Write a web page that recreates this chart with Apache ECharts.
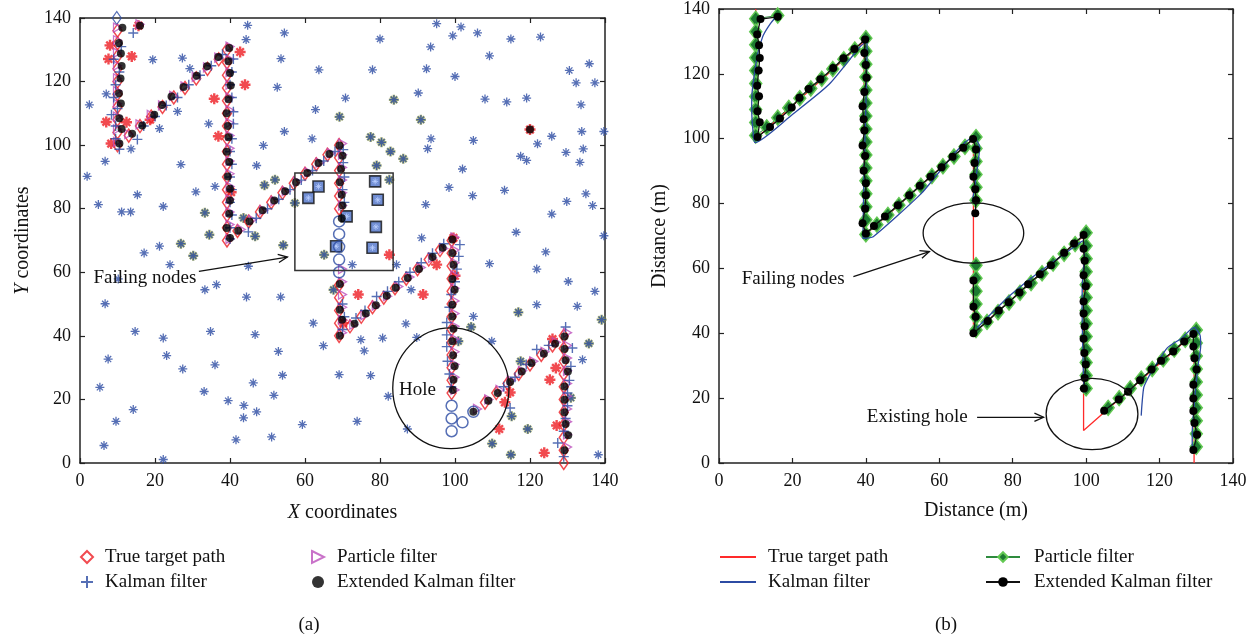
<!DOCTYPE html>
<html><head><meta charset="utf-8">
<script src="https://cdn.jsdelivr.net/npm/echarts@6/dist/echarts.min.js"></script>
<style>html,body{margin:0;padding:0;background:#fff}#c{width:1257px;height:641px}</style>
</head><body><div id="c"></div>
<script>
// ---------- DATA ----------
const axisTicks = [0, 20, 40, 60, 80, 100, 120, 140];

// sensor nodes (left panel)
const blueNodes = [[44.7,137.7],[44.3,133.2],[54.5,135.3],[19.4,126.9],[27.3,127.4],[53.6,127.2],[63.7,123.7],[29.3,124.1],[2.5,112.7],[7,116.1],[52.6,118.2],[26,110.6],[62.8,111.2],[34.3,106.7],[21.2,105.2],[54.5,104.3],[48.9,99.9],[61.9,102],[13.6,98.8],[6.7,94.9],[26.9,93.9],[1.9,90.2],[47.1,93.6],[30.9,85.3],[36,87],[15.3,84.4],[4.9,81.3],[11.1,79],[13.5,79],[22.2,80.7],[21.2,68.2],[17.1,66.1],
[95.1,138.2],[101.6,137.2],[99.4,134.4],[106,135.3],[80,133.4],[93.5,130.9],[114.9,133.4],[122.8,134],[109.2,128.1],[78,123.7],[92.4,124],[100,121.6],[130.5,123.5],[135.8,125.6],[132.3,119.6],[137.3,119.6],[70.8,114.8],[90.2,116.4],[108,114.5],[113.8,113.6],[119.1,114.8],[133.6,112.7],[93.6,102],[92.7,98.9],[104.9,101.5],[122,100.4],[125.8,102.8],[133.8,104.3],[139.7,104.3],[129.6,97.7],[134.2,98.8],[133.3,94.6],[117.5,96.5],[119.1,95.2],[102,92.5],[98.4,86.7],[104.7,84.1],[113.2,85.8],[92.2,81.3],[129.8,82.3],[134.9,84.7],[136.7,81],[125.8,78.3],[139.7,71.5],[116.3,72.6],[124.2,66.4],[91.1,70.8],
[6.7,50.1],[14.7,41.4],[22.2,39.3],[23.1,33.8],[7.5,32.7],[5.3,23.8],[14.2,16.8],[9.6,13.1],[6.4,5.5],[22.2,1.1],[27.4,29.6],[33.1,22.5],[36,30.9],[34.8,41.4],[33.3,54.5],[36.4,56.1],[24,62.4],[44.9,61.9],[44.4,52.2],[53.5,52.2],[46.7,40.4],[52.9,35.1],[54,27.6],[46.2,25.2],[39.5,19.6],[43.7,18.1],[43.6,14.2],[47.1,16.1],[51.7,21.3],[41.6,7.3],[51.1,8.2],[59.3,12.1],[62.2,44],[10.2,57.9],
[64.9,36.9],[69.1,27.8],[73.9,13.1],[74.9,38.8],[75.8,35.3],[77.5,27.5],[80.7,39.3],[82.2,21],[86.9,43.8],[87.3,10.7],[89.8,39.5],[88.3,54.5],[84.4,62.4],[72.6,62.4],[104.9,46.1],[109.2,62.7],[121.8,61],[121.8,49.8],[130.2,57.1],[132.6,49.3],[137.3,54],[134,32.5],[109.8,38.3],[138.2,2.6]];
const oliveNodes = [[49.2,87.4],[52,89.1],[33.3,78.7],[43.6,77.1],[46.7,71.3],[34.5,71.8],[26.9,69],[30.2,65.2],[54.2,68.5],[57.3,81.8],[69.2,108.9],[83.7,114.3],[90.9,108],[77.5,102.6],[80.4,100.9],[82.8,98],[86.2,95.7],[79.1,93.6],[82.5,89.1],[65.1,65.5],[67.6,54.5],[104.3,42.8],[100.9,38.3],[116.9,47.4],[139.1,45.1],[135.7,37.6],[117.5,32],[115.1,14.7],[119.4,10.7],[109.9,6.1],[114.9,2.6],[130.9,20.5]];
const activeNodes = [[8,131.4],[7.6,127.1],[13.8,127.9],[15.6,137.6],[7,107.3],[12.4,107.2],[8.3,100.5],[42.7,129.3],[44,119],[35.8,114.6],[36.9,102.8],[40.3,85.2],[18.7,108],[99.6,70.8],[82.5,65.5],[120,104.9],[74.2,53],[91.5,53],[70.2,44],[95.1,62.4],[100,58.9],[114.7,22.2],[113.3,19.1],[111.8,10.7],[125.3,26.2],[126.9,29.9],[126,39],[127.1,11.8],[123.8,3.2]];
const failingNodes = [[63.6,87],[60.9,83.4],[78.7,88.6],[79.4,82.8],[71.1,77.6],[78.9,74.3],[68.3,68.2],[78,67.7]];
const strayMark = [[120,104.9]];
const startMark = [[9.8,140]];

// true target path samples (left panel diamonds)
const trueMarks = [[10,136],[10,132],[10,128],[10,124],[10,120],[10,116],[10,112],[10,108],[10,104],[10,100],
[13,103],[16,106],[19,109],[22,112],[25,115],[28,118],[31,121],[34,124],[37,127],
[39.2,130],[39.2,126],[39.2,122],[39.2,118],[39.2,114],[39.2,110],[39.2,106],[39.2,102],[39.2,98],[39.2,94],[39.2,90],[39.2,86],[39.2,82],[39.2,78],[39.2,74],[39.2,70],
[42,73],[45,76],[48,79],[51,82],[54,85],[57,88],[60,91],[63,94],[66,97],
[69.1,100],[69.1,96],[69.1,92],[69.1,88],[69.1,84],[69.1,80],[69.1,56],[69.1,52],[69.1,48],[69.1,44],[69.1,40],
[72,43],[75,46],[78,49],[81,52],[84,55],[87,58],[90,61],[93,64],[96,67],
[99.1,70],[99.1,66],[99.1,62],[99.1,58],[99.1,54],[99.1,50],[99.1,46],[99.1,42],[99.1,38],[99.1,34],[99.1,30],[99.1,26],[99.1,22],
[108,19],[111,22],[114,25],[117,28],[120,31],[123,34],[126,37],
[129,40],[129,36],[129,32],[129,28],[129,24],[129,20],[129,16],[129,12],[129,8],[129,4],[129,0]];
// path positions lost at failing nodes / hole (blue circles)
const lostMarks = [[69.1,76],[69.1,72],[69.1,68],[69.1,64],[69.1,60],[99.1,18],[99.1,14],[99.1,10],[102,12.8],[104.9,16.1]];
// Kalman filter estimates (left panel "+")
const kfMarks = [[14.2,135.3],[11,131],[9,127],[10.5,123],[9.5,119],[9,115],[10,111.5],[8.4,109.6],[9.5,106],[9.5,102],[10.5,98.7],
[15.3,101.8],[17,106],[20,109],[23,112.5],[26,115],[29,119],[32,122],[35,125],[38,128.5],
[40.9,127.1],[40.5,123],[40,119],[40.5,115],[40.9,110.5],[40.9,106.7],[40.5,102],[40,98],[40.5,94],[40,90],[40.5,86],[40,82],[40.5,78],[40,74],[40,70.5],
[44.9,72.7],[47,77],[50,80],[53,83],[56,86],[59,89],[62,92],[65,95],[68,98],
[70.2,98.6],[70.2,94.5],[70.5,90],[70,86],[70.5,82],[70,50],[70.5,46],[70,42],
[73.6,45.6],[76,48],[79.1,52.4],[82,54],[85,57],[88,60],[91,63],[94,66],[97,69],
[101.3,68.7],[101,65],[100.5,61],[100,57],[99,53],[98.5,49],[97.8,44.2],[97.8,40.3],[97.8,36.6],[98,32],[98.5,28],[99,24],
[114.7,17.3],[113,24],[116,27],[119,31],[121.8,35.7],[125,37],
[129.5,42.8],[131.3,36.2],[130.9,30.4],[130.5,26],[130,22],[130,18],[129.5,14],[129,10],[127.4,6.3],[129,2]];
// Particle filter estimates (segments separated at the failing nodes and the hole)
const pfSeg1 = [[16,138],[10,137],[10,133],[10,129],[10,125],[10,121],[10,117],[10,113],[10,109],[10,105],[10,101],
[13,103.5],[16,106.5],[19,109.5],[22,112.5],[25,115.5],[28,118.5],[31,121.5],[34,124.5],[37,127.5],[40,131],
[40,127],[40,123],[40,119],[40,115],[40,111],[40,107],[40,103],[40,99],[40,95],[40,91],[40,87],[40,83],[40,79],[40,75],[40,70.5],
[43,73.5],[46,76.5],[49,79.5],[52,82.5],[55,85.5],[58,88.5],[61,91.5],[64,94.5],[67,97.5],[70,100.5],
[70,97],[70,93],[70,89],[70,85],[70,81]];
const pfSeg2 = [[70,61],[70,57],[70,53],[70,49],[70,45],[70,41],
[73,43.5],[76,46.5],[79,49.5],[82,52.5],[85,55.5],[88,58.5],[91,61.5],[94,64.5],[97,67.5],[100,71],
[100,67],[100,63],[100,59],[100,55],[100,51],[100,47],[100,43],[100,39],[100,35],[100,31],[100,27],[100,23]];
const pfSeg3 = [[106,17],[109,20],[112,23],[115,26],[118,29],[121,32],[124,35],[127,38],[130,41],
[130,37],[130,33],[130,29],[130,25],[130,21],[130,17],[130,13],[130,9],[130,5]];
// Extended Kalman filter estimates
const ekfSeg1 = [[16,137.6],[11.3,136.9],[10.4,132.1],[10.9,128.8],[11.1,124.9],[10.8,121],[10.4,116.3],[10.9,113.1],[10.5,108.5],[11.1,105.1],[10.5,100.5],
[13.9,103.6],[16.6,106.2],[19.8,109.6],[21.9,112.6],[24.4,115.3],[27.6,118.3],[31.1,121.8],[33.9,124.8],[36.9,127.7],
[39.8,130.6],[39.6,126.4],[40,122.7],[40.2,118.8],[39.6,114.4],[39.1,110],[39.4,106],[39.6,102.5],[39.1,97.9],[39.8,94.7],[39.4,90.1],[40,86.3],[40,82.6],[39.8,78.4],[39.1,73.9],[40,70.8],
[42.2,73.1],[45.2,76],[48.7,79.5],[51.8,82.6],[54.7,85.5],[57.6,88.3],[60.6,91.2],[63.6,94.4],[66.5,97.2],[69.2,99.9],
[70,96.7],[69.6,92.5],[69.3,88.3],[69.8,84.4],[70,81],[69.8,77]];
const ekfSeg2 = [[69.3,56.3],[69.3,48.2],[69.9,45.1],[69.3,40],
[73.2,43.8],[76.2,47],[78.9,49.6],[81.8,52.6],[84.2,55.1],[87.4,58.2],[90.4,61],[94,64.8],[96.7,67.7],[99.3,70.3],
[99.3,66.1],[99.6,62.4],[99.3,57.9],[99.9,54.5],[99.3,49.8],[99.3,46.1],[99.6,42.2],[99.3,38.3],[99.5,33.9],[99.9,30.4],[99.6,26.2],[99.4,23]];
const ekfSeg3 = [[104.9,16.1],[108.9,19.6],[111.4,22],[114.7,25.5],[117.8,28.8],[120.4,31.5],[123.7,34.4],[126.7,37.5],
[129.2,39.8],[129.2,35.9],[129.5,32.3],[130.1,28.8],[129.2,24.1],[129.2,19.9],[129.2,16],[129.5,12.3],[130.2,8.7],[129.2,4]];
// right panel: true path polyline and Kalman track
const truePath = [[10,140],[10,100],[39.5,130],[39.5,70],[69.3,100],[69.3,40],[99.3,70],[99.3,10],[105.4,16.1],[129.4,40],[129.4,0]];
const kfLine1 = [[15.6,137.7],[14,135.5],[12.1,132],[11.2,129],[10.5,126],[9.9,122],[9.4,118],[9,114],[8.9,110],[9,106],[9.3,102],[9.8,98.8],
[20,107.5],[30,116.8],[38.6,128.6],[40.3,130],[40.3,128],[40,110],[39.5,90],[39.2,69.3],[42,69.8],[55,83],[69.4,100.4],[71,97.5],[70,88],[69,80.5]];
const kfLine2 = [[70.3,41.7],[78.5,50.9],[85,57],[98,67.7],[99.2,68.5],[99.5,64],[99,56],[98.9,48],[99,40],[99.2,30],[99.4,21.7]];
const kfLine3 = [[115,14.6],[115.2,18],[115.7,23.3],[117,26.5],[118.5,29.4],[122.1,35.5],[126,38.5],[129.4,41.8],[131,39.5],[131.2,36],[130.6,31],[130,25],[129.2,15],[128.9,9],[128.9,2.9]];

// annotations (data units)
const failBoxA = [[57.3,60.6],[83.5,91.2]];
const holeA = {c:[98.9,23.5], r:[15.5,19]};
const failEllB = {c:[69.3,70.9], r:[13.7,9.3]};
const holeEllB = {c:[101.6,15.1], r:[12.5,11]};

// ---------- STYLE ----------
const FONT = '"Liberation Serif", "DejaVu Serif", serif';
const RED = '#ee1d23', BLUE = '#2c4ba3', MAG = '#bb4fbb', OLIVE = '#8f9a4e';
const STAR = 'path://M5,0L5,10M0,5L10,5M1.6,1.6L8.4,8.4M1.6,8.4L8.4,1.6';
const PLUS = 'path://M5,0L5,10M0,5L10,5';
const TRI = 'path://M0,0L10,5L0,10Z';
const NONE = 'rgba(0,0,0,0)';

function xAx(gi, top, name) {
  return {type:'value', gridIndex:gi, min:0, max:140, interval:20, position: top?'top':'bottom',
    name: top?'':name, nameLocation:'middle', nameGap: gi===0?40:38,
    nameTextStyle:{fontFamily:FONT, fontSize:20, color:'#111', rich:{i:{fontFamily:FONT,fontSize:20,fontStyle:'italic',color:'#111'}}},
    axisLine:{show:true, onZero:false, lineStyle:{color:'#222', width:1.5}},
    axisTick:{show:true, inside:true, length:5, lineStyle:{color:'#222', width:1.2}},
    axisLabel:{show:!top, fontFamily:FONT, fontSize:18, color:'#111', margin:9},
    splitLine:{show:false}};
}
function yAx(gi, right, name) {
  return {type:'value', gridIndex:gi, min:0, max:140, interval:20, position: right?'right':'left',
    name: right?'':name, nameLocation:'middle', nameGap: gi===0?47:49, nameRotate:90,
    nameTextStyle:{fontFamily:FONT, fontSize:20, color:'#111', rich:{i:{fontFamily:FONT,fontSize:20,fontStyle:'italic',color:'#111'}}},
    axisLine:{show:true, onZero:false, lineStyle:{color:'#222', width:1.5}},
    axisTick:{show:true, inside:true, length:5, lineStyle:{color:'#222', width:1.2}},
    axisLabel:{show:!right, fontFamily:FONT, fontSize:18, color:'#111', margin:9},
    splitLine:{show:false}};
}
function legendCol(left, itemW, names, pad) {
  return {left:left, top:547, orient:'vertical', padding:0, itemGap:5, itemWidth:itemW, itemHeight:12,
    selectedMode:false, data:names, formatter: n => n.replace(/^[ab]:/,''),
    textStyle:{fontFamily:FONT, fontSize:19, color:'#111', padding:[0,0,0,pad], lineHeight:20}};
}

const chart = echarts.init(document.getElementById('c'), null, {renderer:'canvas'});
const option = {
  animation:false,
  backgroundColor:'#fff',
  grid:[{left:80, top:18, width:525, height:445}, {left:719, top:6, width:514, height:457}],
  xAxis:[xAx(0,false,'{i|X} coordinates'), xAx(0,true,''), xAx(1,false,'Distance (m)'), xAx(1,true,'')],
  yAxis:[yAx(0,false,'{i|Y} coordinates'), yAx(0,true,''), yAx(1,false,'Distance (m)'), yAx(1,true,'')],
  legend:[
    legendCol(80, 12, ['a:True target path','a:Kalman filter'], 7),
    legendCol(311, 12, ['a:Particle filter','a:Extended Kalman filter'], 8),
    legendCol(719, 36, ['b:True target path','b:Kalman filter'], 7),
    legendCol(985, 34, ['b:Particle filter','b:Extended Kalman filter'], 9)
  ],
  series:[
    // ---- left panel ----
    {type:'scatter', xAxisIndex:0, yAxisIndex:0, data:oliveNodes, symbol:STAR, symbolSize:10, silent:true,
      itemStyle:{color:NONE, borderColor:OLIVE, borderWidth:2.4}, z:2},
    {type:'scatter', xAxisIndex:0, yAxisIndex:0, data:blueNodes.concat(oliveNodes), symbol:STAR, symbolSize:9, silent:true,
      itemStyle:{color:NONE, borderColor:BLUE, borderWidth:1.3}, z:3},
    {type:'scatter', xAxisIndex:0, yAxisIndex:0, data:failingNodes, symbol:'rect', symbolSize:11, silent:true,
      itemStyle:{color:'#4d72c8', borderColor:'#111', borderWidth:1.6}, z:3},
    {type:'scatter', xAxisIndex:0, yAxisIndex:0, data:failingNodes, symbol:STAR, symbolSize:6, silent:true,
      itemStyle:{color:NONE, borderColor:'#bcd0ff', borderWidth:1}, z:3},
    {type:'scatter', xAxisIndex:0, yAxisIndex:0, data:activeNodes, symbol:STAR, symbolSize:11, silent:true,
      itemStyle:{color:NONE, borderColor:RED, borderWidth:2.4}, z:4},
    {name:'a:True target path', type:'scatter', xAxisIndex:0, yAxisIndex:0, data:trueMarks, symbol:'diamond', symbolSize:[9,13],
      itemStyle:{color:'rgba(255,255,255,0)', borderColor:RED, borderWidth:1.5}, z:5},
    {type:'scatter', xAxisIndex:0, yAxisIndex:0, data:startMark, symbol:'diamond', symbolSize:[9,13], silent:true,
      itemStyle:{color:'rgba(255,255,255,0)', borderColor:BLUE, borderWidth:1.3}, z:5},
    {name:'a:Particle filter', type:'scatter', xAxisIndex:0, yAxisIndex:0, data:pfSeg1.concat(pfSeg2, pfSeg3), symbol:TRI, symbolSize:[8,9],
      itemStyle:{color:'rgba(255,255,255,0)', borderColor:MAG, borderWidth:1.3}, z:6},
    {name:'a:Kalman filter', type:'scatter', xAxisIndex:0, yAxisIndex:0, data:kfMarks, symbol:PLUS, symbolSize:10,
      itemStyle:{color:NONE, borderColor:BLUE, borderWidth:1.4}, z:6},
    {type:'scatter', xAxisIndex:0, yAxisIndex:0, data:lostMarks, symbol:'circle', symbolSize:11, silent:true,
      itemStyle:{color:'rgba(255,255,255,0)', borderColor:BLUE, borderWidth:1.5}, z:6},
    {name:'a:Extended Kalman filter', type:'scatter', xAxisIndex:0, yAxisIndex:0, data:ekfSeg1.concat(ekfSeg2, ekfSeg3), symbol:'circle', symbolSize:8,
      itemStyle:{color:'#000'}, z:7},
    {type:'scatter', xAxisIndex:0, yAxisIndex:0, data:strayMark, symbol:'circle', symbolSize:8, silent:true, itemStyle:{color:'#000'}, z:7},
    // ---- right panel ----
    {name:'b:True target path', type:'line', xAxisIndex:2, yAxisIndex:2, data:truePath, symbol:'none',
      lineStyle:{color:'#ff2a2a', width:1.3}, itemStyle:{color:NONE}, z:2},
    {name:'b:Particle filter', type:'line', xAxisIndex:2, yAxisIndex:2, data:pfSeg1, symbol:'diamond', symbolSize:[12,15], showSymbol:true,
      lineStyle:{color:'#2e8b3e', width:1}, itemStyle:{color:'#1d7a31', borderColor:'#63c953', borderWidth:1.5}, z:3},
    {name:'b:Particle filter', type:'line', xAxisIndex:2, yAxisIndex:2, data:pfSeg2, symbol:'diamond', symbolSize:[12,15],
      lineStyle:{color:'#2e8b3e', width:1}, itemStyle:{color:'#1d7a31', borderColor:'#63c953', borderWidth:1.5}, z:3},
    {name:'b:Particle filter', type:'line', xAxisIndex:2, yAxisIndex:2, data:pfSeg3, symbol:'diamond', symbolSize:[12,15],
      lineStyle:{color:'#2e8b3e', width:1}, itemStyle:{color:'#1d7a31', borderColor:'#63c953', borderWidth:1.5}, z:3},
    {name:'b:Kalman filter', type:'line', xAxisIndex:2, yAxisIndex:2, data:kfLine1, symbol:'none', smooth:0.2,
      lineStyle:{color:BLUE, width:1.3}, itemStyle:{color:NONE}, z:4},
    {name:'b:Kalman filter', type:'line', xAxisIndex:2, yAxisIndex:2, data:kfLine2, symbol:'none', smooth:0.2,
      lineStyle:{color:BLUE, width:1.3}, itemStyle:{color:NONE}, z:4},
    {name:'b:Kalman filter', type:'line', xAxisIndex:2, yAxisIndex:2, data:kfLine3, symbol:'none', smooth:0.2,
      lineStyle:{color:BLUE, width:1.3}, itemStyle:{color:NONE}, z:4},
    {name:'b:Extended Kalman filter', type:'line', xAxisIndex:2, yAxisIndex:2, data:ekfSeg1, symbol:'circle', symbolSize:8,
      lineStyle:{color:'#111', width:1.3}, itemStyle:{color:'#000'}, z:5},
    {name:'b:Extended Kalman filter', type:'line', xAxisIndex:2, yAxisIndex:2, data:ekfSeg2, symbol:'circle', symbolSize:8,
      lineStyle:{color:'#111', width:1.3}, itemStyle:{color:'#000'}, z:5},
    {name:'b:Extended Kalman filter', type:'line', xAxisIndex:2, yAxisIndex:2, data:ekfSeg3, symbol:'circle', symbolSize:8,
      lineStyle:{color:'#111', width:1.3}, itemStyle:{color:'#000'}, z:5}
  ]
};
chart.setOption(option);

// ---------- annotations via the chart's own coordinate conversion ----------
function P(panel, pt) {
  const i = panel === 'a' ? 0 : 2;
  return chart.convertToPixel({xAxisIndex:i, yAxisIndex:i}, pt);
}
function ell(panel, e) {
  const c = P(panel, e.c), ex = P(panel, [e.c[0]+e.r[0], e.c[1]]), ey = P(panel, [e.c[0], e.c[1]+e.r[1]]);
  return {type:'ellipse', shape:{cx:c[0], cy:c[1], rx:Math.abs(ex[0]-c[0]), ry:Math.abs(c[1]-ey[1])},
    style:{fill:'none', stroke:'#111', lineWidth:1.3}, z:50};
}
function arrow(panel, from, to) {
  const a = P(panel, from), b = P(panel, to);
  const ang = Math.atan2(b[1]-a[1], b[0]-a[0]), L = 10, w = 0.42;
  const h1 = [b[0]-L*Math.cos(ang-w), b[1]-L*Math.sin(ang-w)];
  const h2 = [b[0]-L*Math.cos(ang+w), b[1]-L*Math.sin(ang+w)];
  return [
    {type:'line', shape:{x1:a[0], y1:a[1], x2:b[0], y2:b[1]}, style:{stroke:'#111', lineWidth:1.3}, z:50},
    {type:'polyline', shape:{points:[h1, b, h2]}, style:{stroke:'#111', lineWidth:1.3, fill:'none'}, z:50}
  ];
}
function txt(panel, at, s) {
  const p = P(panel, at);
  return {type:'text', x:p[0], y:p[1], z:51, style:{text:s, font:'19px ' + FONT, fill:'#111', align:'center', verticalAlign:'middle'}};
}
const b0 = P('a', failBoxA[0]), b1 = P('a', failBoxA[1]);
const graphics = [
  {type:'rect', shape:{x:b0[0], y:b1[1], width:b1[0]-b0[0], height:b0[1]-b1[1]}, style:{fill:'none', stroke:'#333', lineWidth:1.5}, z:50},
  ell('a', holeA),
  txt('a', [17.3,58.3], 'Failing nodes'),
  txt('a', [90,23.1], 'Hole'),
  ...arrow('a', [31.7,60.3], [55.3,64.8]),
  ell('b', failEllB),
  ell('b', holeEllB),
  txt('b', [20.2,56.7], 'Failing nodes'),
  txt('b', [54,14.1], 'Existing hole'),
  ...arrow('b', [36.6,57.5], [57.3,65.2]),
  ...arrow('b', [70.3,14.1], [88.4,14.1]),
  {type:'text', x:309, y:625, z:51, style:{text:'(a)', font:'19px ' + FONT, fill:'#111', align:'center', verticalAlign:'middle'}},
  {type:'text', x:946, y:625, z:51, style:{text:'(b)', font:'19px ' + FONT, fill:'#111', align:'center', verticalAlign:'middle'}}
];
chart.setOption({graphic: graphics});
</script>
</body></html>
